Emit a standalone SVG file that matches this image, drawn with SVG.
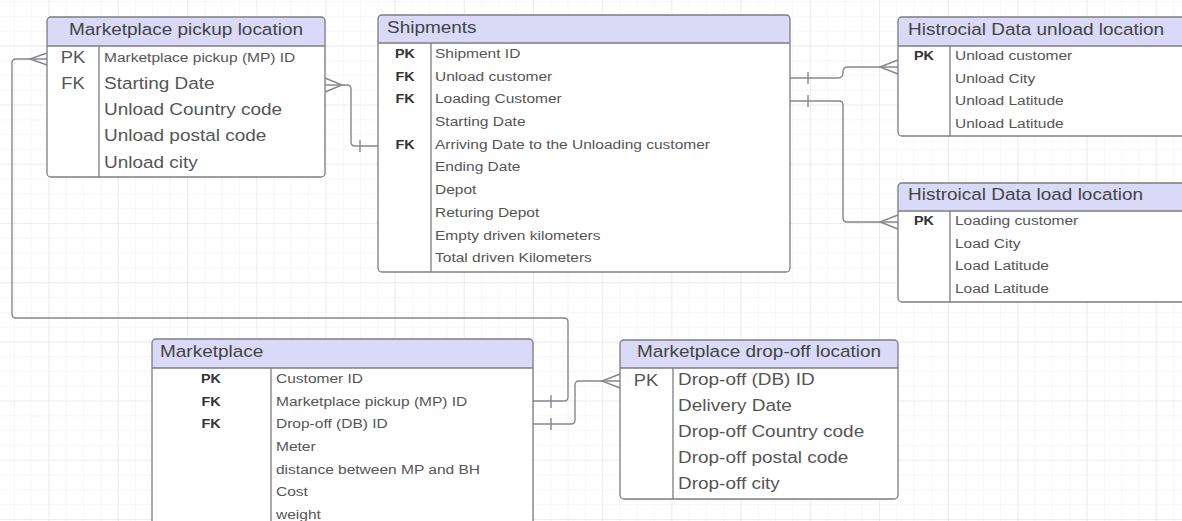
<svg xmlns="http://www.w3.org/2000/svg" width="1182" height="521" viewBox="0 0 1182 521">
<style>
text{font-family:"Liberation Sans",Arial,sans-serif;}
.hd{font-size:16.5px;fill:#444;}
.rl{font-size:16.5px;fill:#555;}
.rs{font-size:13.5px;fill:#555;}
.kb{font-size:12.5px;fill:#333;font-weight:bold;text-anchor:middle;}
.kl{font-size:16px;fill:#555;text-anchor:middle;}
.body{fill:#fff;}
.hdr{fill:#dadaf8;}
.frame{fill:none;stroke:#7c7c84;stroke-width:1.3;}
.sep{stroke:#7c7c84;stroke-width:1.3;}
.conn path{fill:none;stroke:#868690;stroke-width:1.4;}
</style>
<defs>
<pattern id="grid" x="14" y="1" width="17.3" height="14.8" patternUnits="userSpaceOnUse">
<path d="M0 0 V14.8 M0 0 H17.3" fill="none" stroke="#eeeeee" stroke-width="1"/>
</pattern>
<pattern id="gridM" x="-20.6" y="45.4" width="69.2" height="59.2" patternUnits="userSpaceOnUse">
<path d="M0 0 V59.2 M0 0 H69.2" fill="none" stroke="#e4e4e4" stroke-width="1"/>
</pattern>
</defs>
<rect width="1182" height="521" fill="#fff"/>
<rect width="1182" height="521" fill="url(#grid)"/>
<rect width="1182" height="521" fill="url(#gridM)"/>

<g class="conn" id="connectors">
<!-- Marketplace FK -> pickup location PK -->
<path d="M47,59 H16 Q12,59 12,63 V314 Q12,318 16,318 H564 Q568,318 568,322 V397 Q568,401 564,401 H533"/>
<path d="M47,53 L30,59 L47,65"/>
<path d="M551,395 V408"/>
<!-- pickup -> Shipments -->
<path d="M325,85 H347 Q351,85 351,89 V142 Q351,146 355,146 H378"/>
<path d="M325,78 L342,85 L325,92"/>
<path d="M360,140 V152"/>
<!-- Shipments -> unload -->
<path d="M790,78 H838 Q843,78 843,73 V72 Q843,67 848,67 H898"/>
<path d="M898,60 L880,67 L898,74"/>
<path d="M808,72 V84"/>
<!-- Shipments -> load -->
<path d="M790,101 H839 Q843,101 843,105 V218 Q843,222 847,222 H898"/>
<path d="M898,215 L880,222 L898,229"/>
<path d="M808,95 V107"/>
<!-- Marketplace -> drop-off -->
<path d="M533,424 H571 Q575,424 575,420 V385 Q575,381 579,381 H620"/>
<path d="M620,374 L602,381 L620,388"/>
<path d="M551,418 V430"/>
</g>

<g id="pickup">
<rect class="body" x="47" y="17" width="278" height="160" rx="4"/>
<path class="hdr" d="M47,46 V21 Q47,17 51,17 H321 Q325,17 325,21 V46 Z"/>
<line class="sep" x1="47" y1="46" x2="325" y2="46"/>
<line class="sep" x1="99" y1="46" x2="99" y2="177"/>
<rect class="frame" x="47" y="17" width="278" height="160" rx="4"/>
<g transform="translate(186,0) scale(1.15,1)"><text class="hd" x="0" y="35" text-anchor="middle">Marketplace pickup location</text></g>
<g transform="translate(73,0) scale(1.15,1)">
<text class="kl" x="0" y="63">PK</text>
<text class="kl" x="0" y="89">FK</text>
</g>
<g transform="translate(104,0) scale(1.15,1)">
<text class="rs" x="0" y="62">Marketplace pickup (MP) ID</text>
<text class="rl" x="0" y="89">Starting Date</text>
<text class="rl" x="0" y="115">Unload Country code</text>
<text class="rl" x="0" y="141">Unload postal code</text>
<text class="rl" x="0" y="168">Unload city</text>
</g>
</g>

<g id="shipments">
<rect class="body" x="378" y="15" width="412" height="257" rx="4"/>
<path class="hdr" d="M378,43 V19 Q378,15 382,15 H786 Q790,15 790,19 V43 Z"/>
<line class="sep" x1="378" y1="43" x2="790" y2="43"/>
<line class="sep" x1="431" y1="43" x2="431" y2="272"/>
<rect class="frame" x="378" y="15" width="412" height="257" rx="4"/>
<g transform="translate(387,0) scale(1.15,1)"><text class="hd" x="0" y="33">Shipments</text></g>
<g transform="translate(405,0) scale(1.15,1)">
<text class="kb" x="0" y="58">PK</text>
<text class="kb" x="0" y="80.7">FK</text>
<text class="kb" x="0" y="103.4">FK</text>
<text class="kb" x="0" y="148.8">FK</text>
</g>
<g transform="translate(435,0) scale(1.15,1)">
<text class="rs" x="0" y="58">Shipment ID</text>
<text class="rs" x="0" y="80.7">Unload customer</text>
<text class="rs" x="0" y="103.4">Loading Customer</text>
<text class="rs" x="0" y="126.1">Starting Date</text>
<text class="rs" x="0" y="148.8">Arriving Date to the Unloading customer</text>
<text class="rs" x="0" y="171.5">Ending Date</text>
<text class="rs" x="0" y="194.2">Depot</text>
<text class="rs" x="0" y="216.9">Returing Depot</text>
<text class="rs" x="0" y="239.6">Empty driven kilometers</text>
<text class="rs" x="0" y="262.3">Total driven Kilometers</text>
</g>
</g>

<g id="unload">
<rect class="body" x="898" y="17" width="300" height="119" rx="4"/>
<path class="hdr" d="M898,46 V21 Q898,17 902,17 H1200 V46 Z"/>
<line class="sep" x1="898" y1="46" x2="1200" y2="46"/>
<line class="sep" x1="950" y1="46" x2="950" y2="136"/>
<rect class="frame" x="898" y="17" width="300" height="119" rx="4"/>
<g transform="translate(908,0) scale(1.15,1)"><text class="hd" x="0" y="35">Histrocial Data unload location</text></g>
<g transform="translate(924,0) scale(1.15,1)"><text class="kb" x="0" y="60">PK</text></g>
<g transform="translate(955,0) scale(1.15,1)">
<text class="rs" x="0" y="60">Unload customer</text>
<text class="rs" x="0" y="82.7">Unload City</text>
<text class="rs" x="0" y="105.4">Unload Latitude</text>
<text class="rs" x="0" y="128.1">Unload Latitude</text>
</g>
</g>

<g id="load">
<rect class="body" x="898" y="183" width="300" height="119" rx="4"/>
<path class="hdr" d="M898,211 V187 Q898,183 902,183 H1200 V211 Z"/>
<line class="sep" x1="898" y1="211" x2="1200" y2="211"/>
<line class="sep" x1="950" y1="211" x2="950" y2="302"/>
<rect class="frame" x="898" y="183" width="300" height="119" rx="4"/>
<g transform="translate(908,0) scale(1.15,1)"><text class="hd" x="0" y="200">Histroical Data load location</text></g>
<g transform="translate(924,0) scale(1.15,1)"><text class="kb" x="0" y="225">PK</text></g>
<g transform="translate(955,0) scale(1.15,1)">
<text class="rs" x="0" y="225">Loading customer</text>
<text class="rs" x="0" y="247.7">Load City</text>
<text class="rs" x="0" y="270.4">Load Latitude</text>
<text class="rs" x="0" y="293.1">Load Latitude</text>
</g>
</g>

<g id="marketplace">
<rect class="body" x="152" y="339" width="381" height="200" rx="4"/>
<path class="hdr" d="M152,368 V343 Q152,339 156,339 H529 Q533,339 533,343 V368 Z"/>
<line class="sep" x1="152" y1="368" x2="533" y2="368"/>
<line class="sep" x1="271" y1="368" x2="271" y2="540"/>
<rect class="frame" x="152" y="339" width="381" height="200" rx="4"/>
<g transform="translate(160,0) scale(1.15,1)"><text class="hd" x="0" y="357">Marketplace</text></g>
<g transform="translate(211,0) scale(1.15,1)">
<text class="kb" x="0" y="383">PK</text>
<text class="kb" x="0" y="405.7">FK</text>
<text class="kb" x="0" y="428.4">FK</text>
</g>
<g transform="translate(276,0) scale(1.15,1)">
<text class="rs" x="0" y="383">Customer ID</text>
<text class="rs" x="0" y="405.7">Marketplace pickup (MP) ID</text>
<text class="rs" x="0" y="428.4">Drop-off (DB) ID</text>
<text class="rs" x="0" y="451.1">Meter</text>
<text class="rs" x="0" y="473.8">distance between MP and BH</text>
<text class="rs" x="0" y="496.5">Cost</text>
<text class="rs" x="0" y="519.2">weight</text>
</g>
</g>

<g id="dropoff">
<rect class="body" x="620" y="340" width="278" height="159" rx="4"/>
<path class="hdr" d="M620,368 V344 Q620,340 624,340 H894 Q898,340 898,344 V368 Z"/>
<line class="sep" x1="620" y1="368" x2="898" y2="368"/>
<line class="sep" x1="673" y1="368" x2="673" y2="499"/>
<rect class="frame" x="620" y="340" width="278" height="159" rx="4"/>
<g transform="translate(759,0) scale(1.15,1)"><text class="hd" x="0" y="357" text-anchor="middle">Marketplace drop-off location</text></g>
<g transform="translate(646,0) scale(1.15,1)"><text class="kl" x="0" y="386">PK</text></g>
<g transform="translate(678,0) scale(1.15,1)">
<text class="rl" x="0" y="385">Drop-off (DB) ID</text>
<text class="rl" x="0" y="411">Delivery Date</text>
<text class="rl" x="0" y="437">Drop-off Country code</text>
<text class="rl" x="0" y="463">Drop-off postal code</text>
<text class="rl" x="0" y="489">Drop-off city</text>
</g>
</g>
</svg>
